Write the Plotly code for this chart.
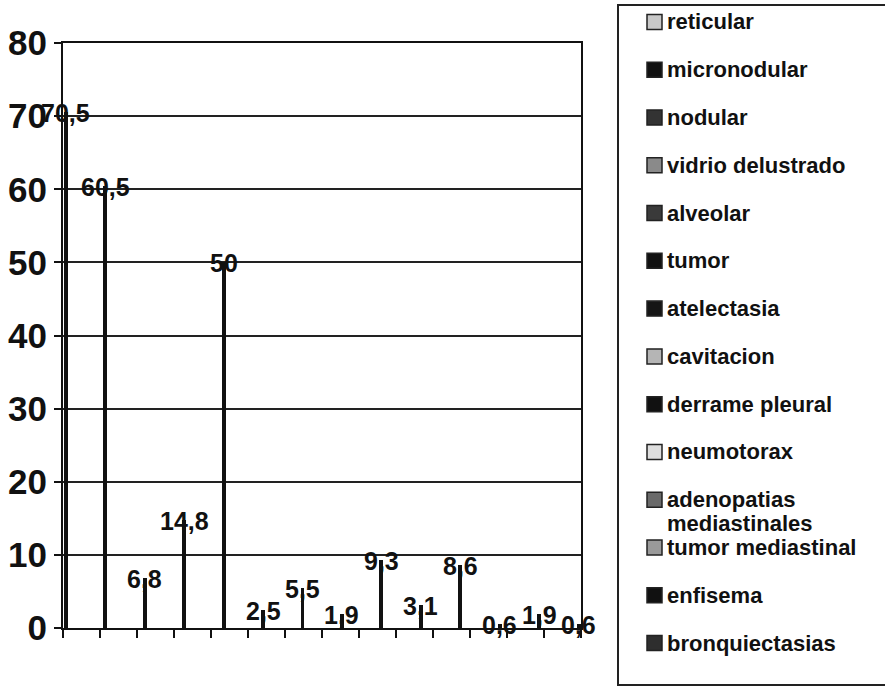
import numpy as np
import plotly.graph_objects as go

categories = ["reticular", "micronodular", "nodular", "vidrio delustrado", "alveolar",
              "tumor", "atelectasia", "cavitacion", "derrame pleural", "neumotorax",
              "adenopatias mediastinales", "tumor mediastinal", "enfisema", "bronquiectasias"]
values = [70.5, 60.5, 6.8, 14.8, 50, 2.5, 5.5, 1.9, 9.3, 3.1, 8.6, 0.6, 1.9, 0.6]
legend_lines = [["reticular"], ["micronodular"], ["nodular"], ["vidrio delustrado"], ["alveolar"],
                ["tumor"], ["atelectasia"], ["cavitacion"], ["derrame pleural"], ["neumotorax"],
                ["adenopatias", "mediastinales"], ["tumor mediastinal"], ["enfisema"], ["bronquiectasias"]]
swatch_colors = ["#c8c8c8", "#111111", "#333333", "#8a8a8a", "#3a3a3a", "#111111", "#151515",
                 "#b5b5b5", "#111111", "#dedede", "#6a6a6a", "#9a9a9a", "#111111", "#2e2e2e"]
y_ticks = [0, 10, 20, 30, 40, 50, 60, 70, 80]

W, H = 885, 687
ML, MR, MT, MB = 63, 304, 43, 59
PW, PH = W - ML - MR, H - MT - MB

def px_x(p):
    return (p - ML) / PW

def px_y(q):
    return (H - MB - q) / PH

idx = list(range(len(values)))
labels = [f"{v:g}".replace(".", ",") for v in values]

x_range = [-0.07, 13.06]

fig = go.Figure()
fig.add_trace(go.Bar(
    x=idx, y=values, width=0.1,
    marker=dict(color="#111111", line=dict(width=0)),
    hovertext=categories, showlegend=False,
))

shapes = [dict(type="rect", xref="paper", yref="paper",
               x0=px_x(618), x1=px_x(900), y0=px_y(685), y1=px_y(5),
               line=dict(color="#222222", width=2), fillcolor="white", layer="below")]
annotations = []
for xi, v, t in zip(idx, values, labels):
    annotations.append(dict(
        text=t, x=xi, y=v, xref="x", yref="y", showarrow=False,
        xanchor="center", yanchor="middle", yshift=-1,
        font=dict(family="Arial, Liberation Sans", size=25, color="#111111", weight="bold"),
    ))
item_y = np.linspace(22, 643, len(legend_lines))
for lines, col, yc in zip(legend_lines, swatch_colors, item_y):
    shapes.append(dict(type="rect", xref="paper", yref="paper",
                       x0=px_x(647), x1=px_x(662), y0=px_y(yc + 7.5), y1=px_y(yc - 7.5),
                       line=dict(color="#222222", width=1.5), fillcolor=col))
    for k, line in enumerate(lines):
        annotations.append(dict(
            text=line, xref="paper", yref="paper", x=px_x(665), y=px_y(yc + 24 * k),
            xanchor="left", yanchor="middle", showarrow=False, align="left",
            font=dict(family="Arial, Liberation Sans", size=22, color="#111111", weight="bold"),
        ))

fig.update_layout(
    width=W, height=H,
    margin=dict(l=ML, r=MR, t=MT, b=MB, autoexpand=False),
    paper_bgcolor="white", plot_bgcolor="white",
    separators=",.",
    shapes=shapes, annotations=annotations,
    bargap=0,
)
fig.update_xaxes(
    range=x_range, showgrid=False, zeroline=False, automargin=False,
    showline=True, linecolor="#111111", linewidth=2, mirror=True,
    ticks="outside", ticklen=8, tickwidth=2, tickcolor="#111111",
    tickvals=list(np.linspace(x_range[0], x_range[1], 15)), showticklabels=False,
)
fig.update_yaxes(
    range=[0, 80], tickvals=y_ticks, automargin=False,
    showgrid=True, gridcolor="#222222", gridwidth=1.5, zeroline=False,
    showline=True, linecolor="#111111", linewidth=2, mirror=True,
    ticks="outside", ticklen=7, tickwidth=2, tickcolor="#111111",
    tickfont=dict(family="Arial, Liberation Sans", size=35, color="#111111", weight="bold"),
)

fig.write_html("out.html")
